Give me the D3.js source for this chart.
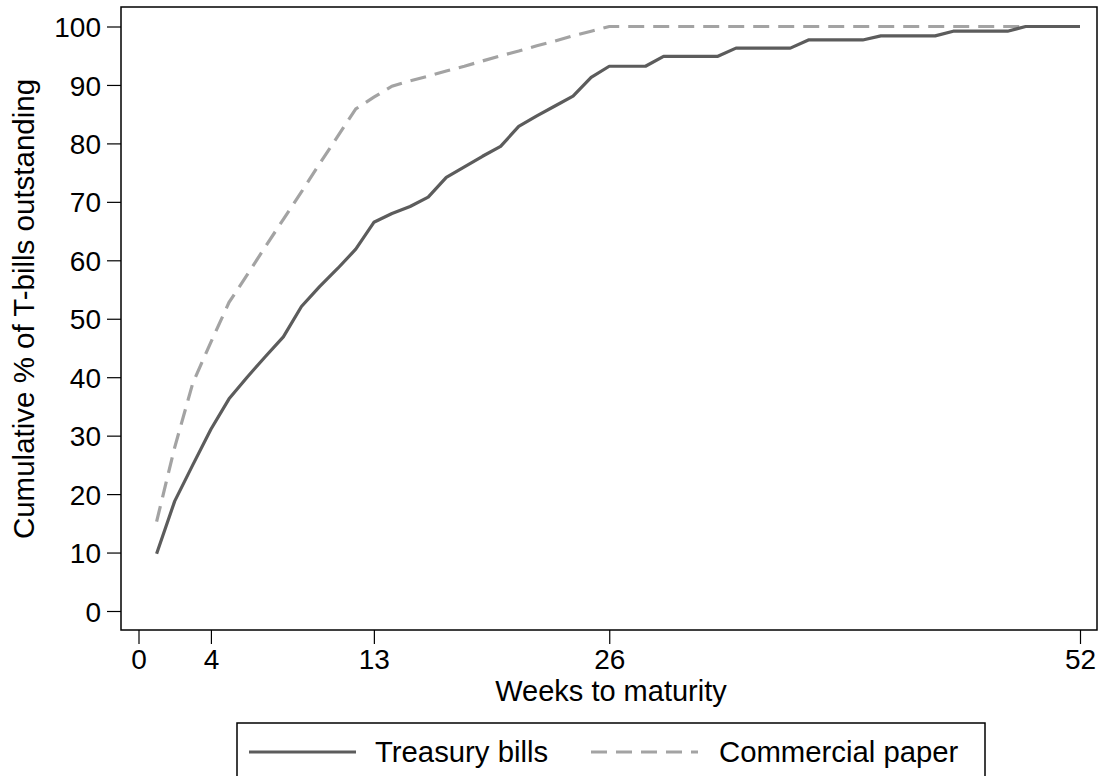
<!DOCTYPE html>
<html>
<head>
<meta charset="utf-8">
<script src="https://cdn.jsdelivr.net/npm/d3@7"></script>
<style>
  html, body { margin: 0; padding: 0; background: #fff; }
  svg { display: block; }
  text { font-family: "Liberation Sans", Arial, Helvetica, sans-serif; fill: #000; }
</style>
</head>
<body>
<svg id="chart" width="1102" height="776"></svg>
<script>
// ---- data ----
const weeks = d3.range(1, 53);
const treasuryBills = [
  9.8, 18.8, 25.0, 31.1, 36.3, 40.0, 43.5, 46.9, 52.1, 55.5,
  58.6, 61.9, 66.5, 68.0, 69.2, 70.8, 74.2, 76.0, 77.8, 79.5,
  82.9, 84.7, 86.4, 88.1, 91.3, 93.2, 93.2, 93.2, 94.9, 94.9,
  94.9, 94.9, 96.3, 96.3, 96.3, 96.3, 97.7, 97.7, 97.7, 97.7,
  98.4, 98.4, 98.4, 98.4, 99.2, 99.2, 99.2, 99.2, 100, 100,
  100, 100
];
const commercialPaper = [
  15.3, 28.0, 39.0, 46.0, 52.8, 57.5, 62.3, 67.0, 71.7, 76.5,
  81.2, 85.9, 87.9, 89.8, 90.7, 91.5, 92.4, 93.2, 94.1, 95.0,
  95.8, 96.7, 97.5, 98.4, 99.2, 100, 100, 100, 100, 100,
  100, 100, 100, 100, 100, 100, 100, 100, 100, 100,
  100, 100, 100, 100, 100, 100, 100, 100, 100, 100,
  100, 100
];
const xTicks = [0, 4, 13, 26, 52];
const yTicks = [0, 10, 20, 30, 40, 50, 60, 70, 80, 90, 100];
const seriesNames = ["Treasury bills", "Commercial paper"];
const xTitle = "Weeks to maturity";
const yTitle = "Cumulative % of T-bills outstanding";

// ---- layout ----
const svg = d3.select("#chart");
const frame = { left: 121, top: 7, right: 1097, bottom: 630 };
const x = d3.scaleLinear().domain([0, 52]).range([138.5, 1080]);
const y = d3.scaleLinear().domain([0, 100]).range([611, 26.5]);

svg.append("rect").attr("width", 1102).attr("height", 776).attr("fill", "#fff");

// plot frame
svg.append("rect")
  .attr("x", frame.left).attr("y", frame.top)
  .attr("width", frame.right - frame.left).attr("height", frame.bottom - frame.top)
  .attr("fill", "none").attr("stroke", "#000").attr("stroke-width", 1.5);

// y axis
const yAxis = d3.axisLeft(y).tickValues(yTicks).tickSize(14).tickPadding(6).tickFormat(d3.format("d"));
const gy = svg.append("g").attr("transform", `translate(${frame.left},0)`).call(yAxis);
gy.select(".domain").remove();
gy.selectAll(".tick line").attr("stroke", "#000").attr("stroke-width", 1.2);
gy.selectAll(".tick text").attr("font-size", 28).attr("dy", "0.36em")
  .style("font-family", '"Liberation Sans", Arial, sans-serif').attr("fill", "#000");

// x axis
const xAxis = d3.axisBottom(x).tickValues(xTicks).tickSize(14).tickPadding(5).tickFormat(d3.format("d"));
const gx = svg.append("g").attr("transform", `translate(0,${frame.bottom})`).call(xAxis);
gx.select(".domain").remove();
gx.selectAll(".tick line").attr("stroke", "#000").attr("stroke-width", 1.2);
gx.selectAll(".tick text").attr("font-size", 28)
  .style("font-family", '"Liberation Sans", Arial, sans-serif').attr("fill", "#000");

// axis titles
svg.append("text").attr("x", 611).attr("y", 701).attr("text-anchor", "middle")
  .attr("font-size", 29).text(xTitle);
svg.append("text").attr("transform", "translate(34,309) rotate(-90)")
  .attr("text-anchor", "middle").attr("font-size", 29.5).text(yTitle);

// lines
const line = d3.line().x((d, i) => x(weeks[i])).y(d => y(d));
svg.append("path").datum(commercialPaper)
  .attr("d", line).attr("fill", "none")
  .attr("stroke", "#a3a3a3").attr("stroke-width", 3.2)
  .attr("stroke-dasharray", "16,9");
svg.append("path").datum(treasuryBills)
  .attr("d", line).attr("fill", "none")
  .attr("stroke", "#5c5c5c").attr("stroke-width", 3.2)
  .attr("stroke-linejoin", "round");

// legend
const lg = svg.append("g");
lg.append("rect").attr("x", 237).attr("y", 723).attr("width", 748).attr("height", 70)
  .attr("fill", "#fff").attr("stroke", "#000").attr("stroke-width", 1.5);
const legendItems = [
  { name: seriesNames[0], x1: 249, x2: 356, tx: 375, color: "#5c5c5c", dash: null },
  { name: seriesNames[1], x1: 591, x2: 698, tx: 719, color: "#a3a3a3", dash: "16,9" }
];
legendItems.forEach(it => {
  const l = lg.append("line").attr("x1", it.x1).attr("x2", it.x2).attr("y1", 752).attr("y2", 752)
    .attr("stroke", it.color).attr("stroke-width", 3.2);
  if (it.dash) l.attr("stroke-dasharray", it.dash);
  lg.append("text").attr("x", it.tx).attr("y", 762).attr("font-size", 29.3).text(it.name);
});
</script>
</body>
</html>
